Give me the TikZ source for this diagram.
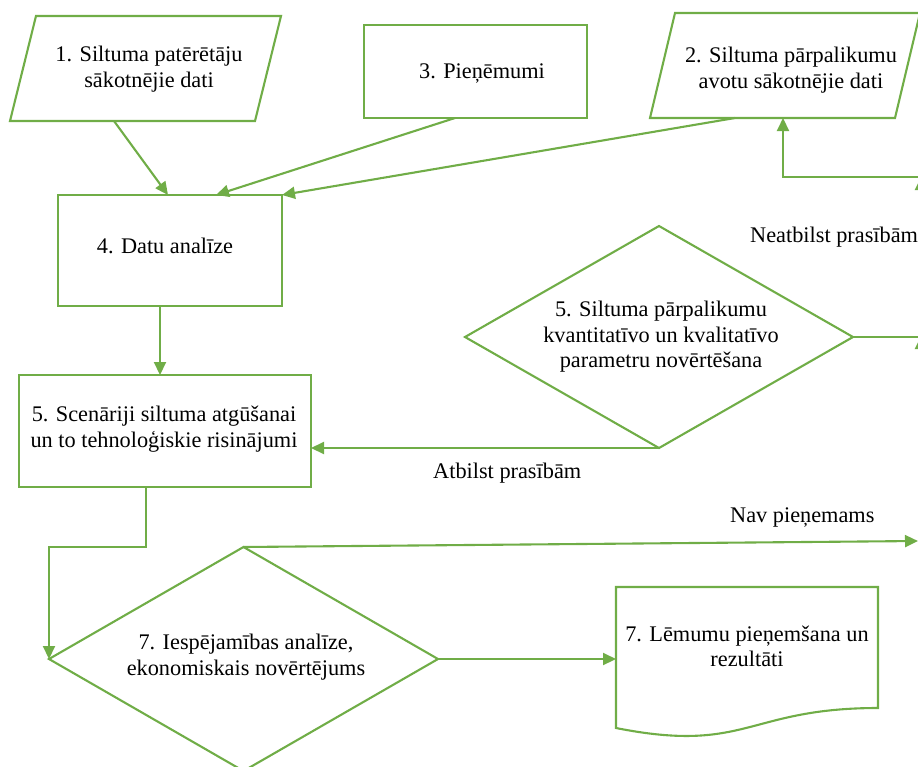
\documentclass[tikz,border=0pt]{standalone}
\usepackage{fontspec}
\setmainfont{Liberation Serif}
\usetikzlibrary{arrows.meta,shapes.geometric,calc}
\definecolor{flowgreen}{HTML}{70AD47}
\tikzset{
  outline/.style={draw=flowgreen, line width=2.1pt, line join=miter},
  boxshape/.style={outline, rectangle, inner sep=0pt, outer sep=0pt},
  decision/.style={outline, diamond, inner sep=0pt, outer sep=0pt},
  caption/.style={font=\fontsize{22.3}{25.6}\selectfont, align=center, inner sep=0pt},
  flowlabel/.style={font=\fontsize{22.3}{25.6}\selectfont, inner sep=0pt, anchor=base west},
  link/.style={draw=flowgreen, line width=2.1pt, -{Triangle[length=13pt,width=12pt]}},
  plain/.style={draw=flowgreen, line width=2.1pt},
}
\begin{document}
\begin{tikzpicture}[x=1pt,y=-1pt]
\useasboundingbox (0,0) rectangle (918,766);
\clip (0,0) rectangle (918,766);

% input data (parallelograms)
\draw[outline] (36,16) -- (281,16) -- (255,121) -- (10,121) -- cycle;
\coordinate (p1out) at (114,121);
\node[caption] (p1) at (149,69) {1. Siltuma patērētāju\\sākotnējie dati};

\draw[outline] (675,13) -- (920,13) -- (895,118) -- (650,118) -- cycle;
\coordinate (p2out) at (735,118);
\coordinate (p2in) at (783,118);
\node[caption] (p2) at (791,70) {2. Siltuma pārpalikumu\\avotu sākotnējie dati};

% process boxes
\node[boxshape, minimum width=223pt, minimum height=93pt] (b3) at (475.5,71.5) {};
\node[caption, anchor=base] (t3) at (482,78) {3. Pieņēmumi};

\node[boxshape, minimum width=224pt, minimum height=111pt] (b4) at (170,250.5) {};
\node[caption, anchor=base] (t4) at (165,253) {4. Datu analīze};

\node[boxshape, minimum width=292pt, minimum height=112pt] (b5) at (165,431) {};
\node[caption] (t5) at (164,429) {5. Scenāriji siltuma atgūšanai\\un to tehnoloģiskie risinājumi};

% decisions
\node[decision, minimum width=388pt, minimum height=222pt] (d5) at (659,337) {};
\node[caption] (t5d) at (661,337) {5. Siltuma pārpalikumu\\kvantitatīvo un kvalitatīvo\\parametru novērtēšana};

\node[decision, minimum width=389pt, minimum height=224pt] (d7) at (243.5,659) {};
\node[caption] (t7d) at (246,657) {7. Iespējamības analīze,\\ekonomiskais novērtējums};

% document
\draw[outline] (616,587) -- (878,587) -- (878,708)
  .. controls (747,708) and (747,754) .. (616,728) -- cycle;
\coordinate (docin) at (616,659);
\node[caption] (tdoc) at (747,646.5) {7. Lēmumu pieņemšana un\\rezultāti};

% connectors
\draw[link] (p1out) -- ([xshift=-2pt]b4.north);
\draw[link] ([xshift=-20.5pt]b3.south) -- ([xshift=46pt]b4.north);
\draw[link] (p2out) -- (b4.north east);
\draw[link] ([xshift=-10pt]b4.south) -- ([xshift=-10pt]b4.south |- b5.north);
\draw[link] (d5.south) -- (d5.south -| b5.east);
\draw[link] ([xshift=-19pt]b5.south) -- ++(0,60) -| (d7.west);
\draw[link] (d7.east) -- (docin);

% connectors leaving the right edge
\coordinate (edgeA) at (930,177);
\coordinate (edgeB) at (930,337);
\coordinate (navend) at (918,541);
\draw[link] (edgeA) -| (p2in);
\draw[plain] (d5.east) -- (edgeB);
\draw[link] (921,230) -- (921,177);
\draw[link] (921,390) -- (921,336);
\draw[link] (d7.north) -- (navend);

% branch labels
\node[flowlabel] (lneat) at (750,242) {Neatbilst prasībām};
\node[flowlabel] (latb) at (433,478) {Atbilst prasībām};
\node[flowlabel] (lnav) at (730,522) {Nav pieņemams};
\end{tikzpicture}
\end{document}
